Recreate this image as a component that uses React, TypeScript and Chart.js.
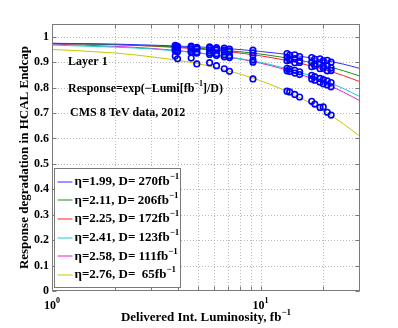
import React, { useEffect, useRef } from 'react';
import { Chart, registerables } from 'chart.js';

Chart.register(...registerables);

// Fit curves, sampled at these luminosities (fb^-1)
const curveLumi = [1, 2, 3, 5, 7, 10, 15, 20, 25, 30];
const fitEta199 = [0.974, 0.971, 0.967, 0.960, 0.953, 0.942, 0.925, 0.908, 0.892, 0.875];
const fitEta211 = [0.973, 0.969, 0.964, 0.955, 0.945, 0.932, 0.909, 0.888, 0.866, 0.845];
const fitEta225 = [0.974, 0.969, 0.963, 0.952, 0.941, 0.925, 0.898, 0.872, 0.847, 0.823];
const fitEta241 = [0.967, 0.959, 0.952, 0.936, 0.921, 0.899, 0.863, 0.829, 0.796, 0.764];
const fitEta258 = [0.971, 0.962, 0.954, 0.937, 0.920, 0.896, 0.856, 0.818, 0.782, 0.748];
const fitEta276 = [0.950, 0.936, 0.921, 0.894, 0.866, 0.827, 0.766, 0.709, 0.657, 0.608];

// Measured points
const pointLumi = [3.9, 4.0, 4.65, 4.95, 5.7, 6.15, 6.7, 7.1, 9.2, 13.4, 13.8, 14.6, 15.4, 17.6, 18.2, 19.3, 20.0, 20.9, 21.8];
const dataEta199 = [0.966, 0.962, 0.963, 0.958, 0.960, 0.957, 0.955, 0.951, 0.947, 0.934, 0.928, 0.929, 0.922, 0.918, 0.912, 0.913, 0.906, 0.907, 0.900];
const dataEta211 = [0.961, 0.957, 0.958, 0.953, 0.954, 0.950, 0.947, 0.943, 0.937, 0.919, 0.912, 0.913, 0.905, 0.900, 0.893, 0.893, 0.885, 0.886, 0.878];
const dataEta225 = [0.955, 0.959, 0.951, 0.954, 0.945, 0.948, 0.940, 0.942, 0.927, 0.905, 0.908, 0.898, 0.899, 0.882, 0.885, 0.874, 0.876, 0.866, 0.867];
const dataEta241 = [0.948, 0.945, 0.943, 0.940, 0.936, 0.932, 0.928, 0.925, 0.908, 0.876, 0.873, 0.868, 0.862, 0.848, 0.843, 0.836, 0.831, 0.826, 0.820];
const dataEta258 = [0.944, 0.941, 0.938, 0.935, 0.930, 0.926, 0.921, 0.918, 0.900, 0.866, 0.863, 0.857, 0.851, 0.834, 0.829, 0.821, 0.815, 0.810, 0.803];
const dataEta276 = [0.924, 0.913, 0.916, 0.893, 0.898, 0.886, 0.874, 0.864, 0.834, 0.786, 0.783, 0.773, 0.763, 0.746, 0.735, 0.722, 0.724, 0.703, 0.692];

const etaLabels = ['1.99', '2.11', '2.25', '2.41', '2.58', '2.76'];
const dLabels = [' 270', ' 206', ' 172', ' 123', ' 111', '  65'];
const lineColors = ['#3030ff', '#1a8c1a', '#ff2020', '#20c8c8', '#e020e0', '#c8c800'];

const yTickValues = [0, 0.1, 0.2, 0.3, 0.4, 0.5, 0.6, 0.7, 0.8, 0.9, 1];
const xGridValues = [2, 3, 4, 5, 6, 7, 8, 9, 10, 20];
const xTickValues = [1, 10];
const xTickExps = ['0', '1'];

const fitSeries = [fitEta199, fitEta211, fitEta225, fitEta241, fitEta258, fitEta276];
const pointSeries = [dataEta199, dataEta211, dataEta225, dataEta241, dataEta258, dataEta276];

const SERIF = '"Liberation Serif", "Times New Roman", serif';

type Part = [string, boolean];

function partsWidth(ctx: CanvasRenderingContext2D, parts: Part[], size: number, supSize: number) {
  let w = 0;
  for (const [t, sup] of parts) {
    ctx.font = `bold ${sup ? supSize : size}px ${SERIF}`;
    w += ctx.measureText(t).width;
  }
  return w;
}

function drawParts(ctx: CanvasRenderingContext2D, parts: Part[], x: number, y: number, size: number, supSize: number, supRaise: number) {
  let cx = x;
  for (const [t, sup] of parts) {
    ctx.font = `bold ${sup ? supSize : size}px ${SERIF}`;
    ctx.fillText(t, cx, sup ? y - supRaise : y);
    cx += ctx.measureText(t).width;
  }
}

const decorPlugin = {
  id: 'decor',
  beforeDraw(chart: any) {
    const { ctx, width, height } = chart;
    ctx.save();
    ctx.fillStyle = '#ffffff';
    ctx.fillRect(0, 0, width, height);
    ctx.restore();
  },
  beforeDatasetsDraw(chart: any) {
    const { ctx, chartArea: a, scales } = chart;
    ctx.save();
    ctx.strokeStyle = '#b8b8b8';
    ctx.lineWidth = 1;
    ctx.setLineDash([1, 2]);
    for (const v of yTickValues) {
      if (v === 0) continue;
      const py = Math.round(scales.y.getPixelForValue(v)) + 0.5;
      ctx.beginPath();
      ctx.moveTo(a.left, py);
      ctx.lineTo(a.right, py);
      ctx.stroke();
    }
    for (const v of xGridValues) {
      const px = Math.round(scales.x.getPixelForValue(v)) + 0.5;
      ctx.beginPath();
      ctx.moveTo(px, a.top);
      ctx.lineTo(px, a.bottom);
      ctx.stroke();
    }
    ctx.restore();
  },
  afterDraw(chart: any) {
    const { ctx, chartArea: a, scales } = chart;
    const xs = scales.x;
    const ys = scales.y;
    ctx.save();
    // frame
    ctx.strokeStyle = '#7a7a7a';
    ctx.lineWidth = 1;
    ctx.setLineDash([]);
    const L = Math.round(a.left) + 0.5;
    const R = Math.round(a.right) - 0.5;
    const T = Math.round(a.top) + 0.5;
    const B = Math.round(a.bottom) - 0.5;
    ctx.strokeRect(L, T, R - L, B - T);
    // inward ticks
    ctx.beginPath();
    for (const v of yTickValues) {
      const py = Math.round(ys.getPixelForValue(v)) + 0.5;
      ctx.moveTo(L, py); ctx.lineTo(L + 4, py);
      ctx.moveTo(R, py); ctx.lineTo(R - 4, py);
    }
    for (const v of xGridValues) {
      const px = Math.round(xs.getPixelForValue(v)) + 0.5;
      ctx.moveTo(px, B); ctx.lineTo(px, B - 4);
      ctx.moveTo(px, T); ctx.lineTo(px, T + 4);
    }
    ctx.stroke();

    ctx.fillStyle = '#000';
    ctx.textBaseline = 'middle';
    // y tick labels
    ctx.textAlign = 'right';
    ctx.font = `bold 12px ${SERIF}`;
    for (const v of yTickValues) {
      const lab = v === 0 ? '0' : v === 1 ? '1' : v.toFixed(1);
      ctx.fillText(lab, a.left - 3, ys.getPixelForValue(v));
    }
    // x tick labels
    ctx.textAlign = 'left';
    xTickValues.forEach((v, i) => {
      const parts: Part[] = [['10', false], [xTickExps[i], true]];
      const w = partsWidth(ctx, parts, 12, 8);
      drawParts(ctx, parts, xs.getPixelForValue(v) - w / 2, a.bottom + 15, 12, 8, 5);
    });
    // x title
    {
      const parts: Part[] = [['Delivered Int. Luminosity, fb', false], ['\u22121', true]];
      const w = partsWidth(ctx, parts, 13, 9);
      drawParts(ctx, parts, (a.left + a.right) / 2 - w / 2, a.bottom + 27, 13, 9, 5);
    }
    // y title
    ctx.save();
    ctx.translate(25, (a.top + a.bottom) / 2);
    ctx.rotate(-Math.PI / 2);
    ctx.textAlign = 'center';
    ctx.font = `bold 13px ${SERIF}`;
    ctx.fillText('Response degradation in HCAL Endcap', 0, 0);
    ctx.restore();

    // annotations
    ctx.textAlign = 'left';
    ctx.font = `bold 12px ${SERIF}`;
    ctx.fillText('Layer 1', a.left + 16, ys.getPixelForValue(0.9));
    drawParts(ctx, [['Response=exp(\u2212Lumi[fb', false], ['\u22121', true], [']/D)', false]], a.left + 16, ys.getPixelForValue(0.795), 12, 8, 5);
    ctx.font = `bold 12px ${SERIF}`;
    ctx.fillText('CMS 8 TeV data, 2012', a.left + 18, ys.getPixelForValue(0.7));

    // legend
    const bx = Math.round(a.left) + 2.5;
    const bw = 126;
    const bh = 119;
    const by = Math.round(a.bottom) - 3.5 - bh;
    ctx.fillStyle = '#fff';
    ctx.fillRect(bx, by, bw, bh);
    ctx.strokeStyle = '#7a7a7a';
    ctx.strokeRect(bx, by, bw, bh);
    etaLabels.forEach((eta, i) => {
      const cy = by + 13 + i * 18.7;
      ctx.strokeStyle = lineColors[i];
      ctx.lineWidth = 1;
      ctx.beginPath();
      ctx.moveTo(bx + 3, Math.round(cy));
      ctx.lineTo(bx + 18, Math.round(cy));
      ctx.stroke();
      ctx.fillStyle = '#000';
      drawParts(ctx, [['\u03b7=' + eta + ', D=' + dLabels[i] + 'fb', false], ['\u22121', true]], bx + 20, cy, 13, 9, 5);
    });
    ctx.restore();
  },
};

export default function App() {
  const ref = useRef<HTMLCanvasElement>(null);
  useEffect(() => {
    const lineSets = fitSeries.map((vals, i) => ({
      label: 'fit ' + etaLabels[i],
      data: curveLumi.map((x, j) => ({ x, y: vals[j] })),
      showLine: true,
      borderColor: lineColors[i],
      backgroundColor: lineColors[i],
      borderWidth: 1,
      pointRadius: 0,
      fill: false,
      cubicInterpolationMode: 'monotone' as const,
      order: 2,
    }));
    const pointSets = pointSeries.map((vals, i) => ({
      label: 'data ' + etaLabels[i],
      data: pointLumi.map((x, j) => ({ x, y: vals[j] })),
      showLine: false,
      borderColor: '#0000ff',
      backgroundColor: 'rgba(0,0,0,0)',
      pointRadius: 2.8,
      pointBorderWidth: 1.6,
      order: 1,
    }));
    const chart = new Chart(ref.current as HTMLCanvasElement, {
      type: 'scatter',
      data: { datasets: [...lineSets, ...pointSets] as any },
      options: {
        animation: false,
        responsive: true,
        maintainAspectRatio: false,
        events: [],
        layout: { padding: { top: 24, right: 38, left: 0, bottom: 0 } },
        plugins: { legend: { display: false }, tooltip: { enabled: false } },
        scales: {
          x: {
            type: 'logarithmic',
            min: 1,
            max: 30,
            grid: { display: false },
            border: { display: false },
            ticks: { display: false },
            afterFit: (s: any) => { s.height = 37; },
          },
          y: {
            type: 'linear',
            min: 0,
            max: 1.05,
            grid: { display: false },
            border: { display: false },
            ticks: { display: false },
            afterFit: (s: any) => { s.width = 52; },
          },
        },
      } as any,
      plugins: [decorPlugin],
    });
    return () => chart.destroy();
  }, []);
  return (
    <div style={{ position: 'fixed', left: 0, top: 0, width: 398, height: 328, background: '#fff' }}>
      <canvas ref={ref} />
    </div>
  );
}
